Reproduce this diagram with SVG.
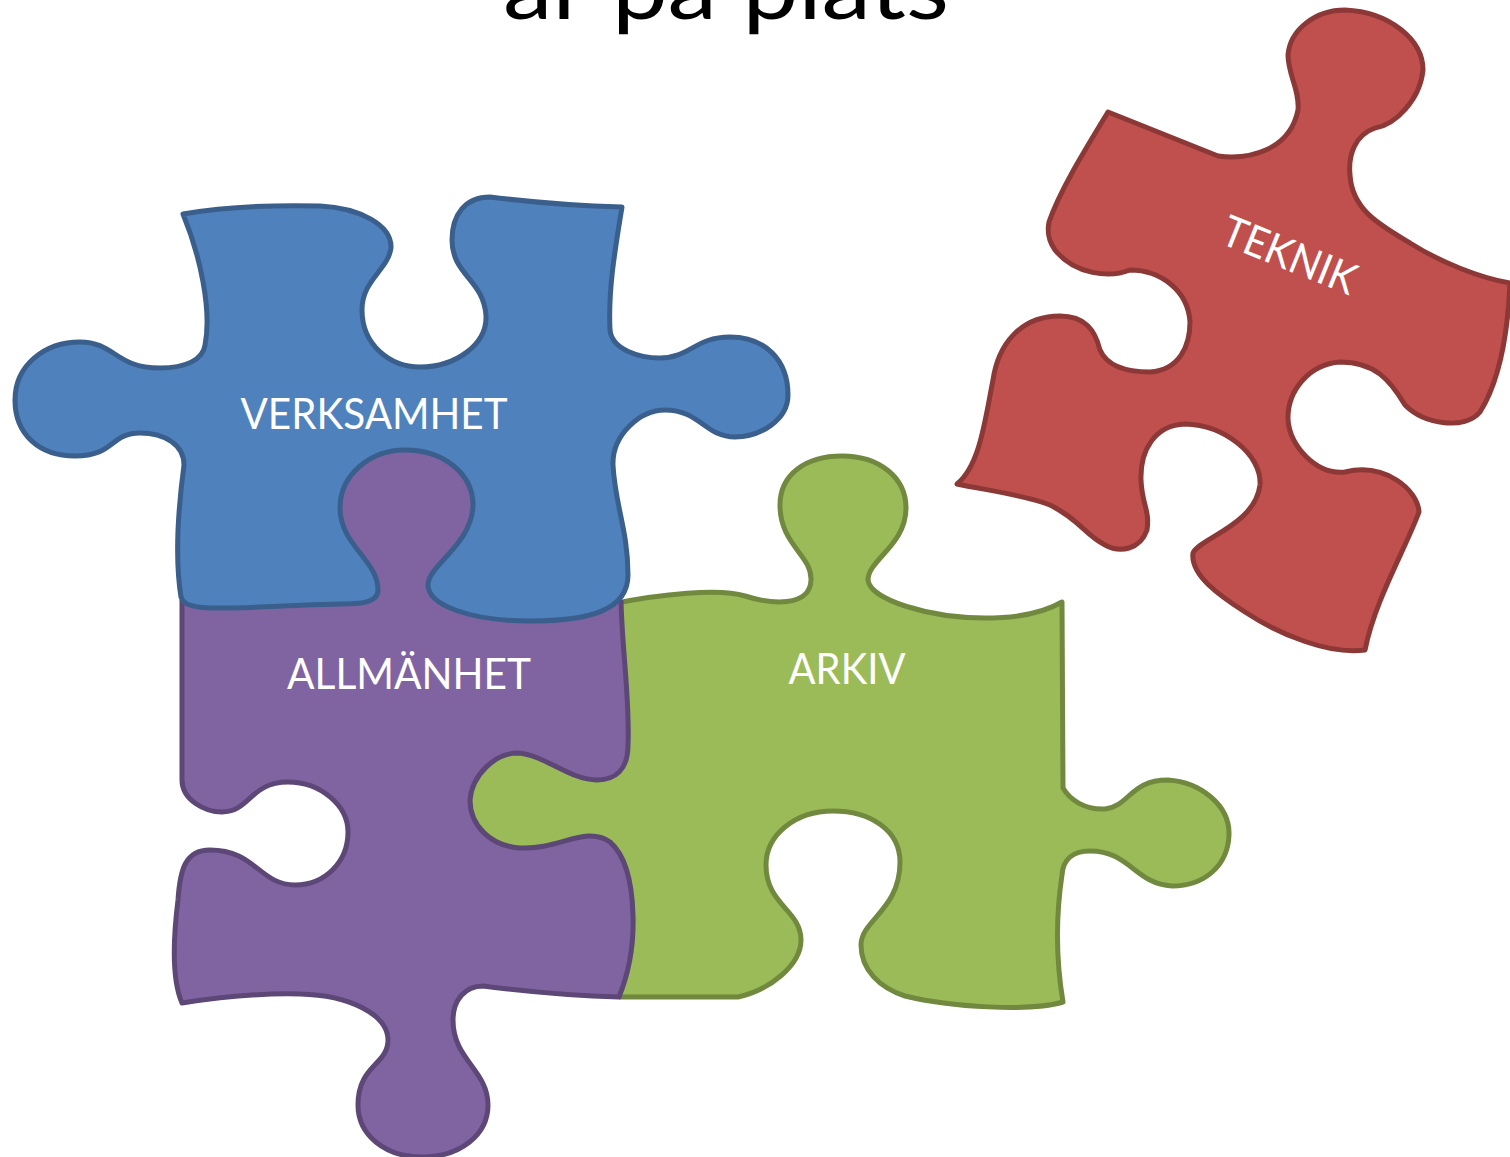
<svg xmlns="http://www.w3.org/2000/svg" width="1510" height="1157" viewBox="0 0 1510 1157">
<style>
.p{stroke-width:5;stroke-linejoin:round}
.l{font-family:Lato,"Open Sans",sans-serif;fill:#fff;font-size:43px;text-anchor:middle}
.blue{fill:#4f81bd;stroke:#3a5f8c}.red{fill:#c0504d;stroke:#8c3836}.green{fill:#9bbb59;stroke:#71893f}.purple{fill:#8064a2;stroke:#5c4776}
</style>
<rect width="1510" height="1157" fill="#fff"/>
<text x="726" y="19" font-family="Lato,'Open Sans',sans-serif" font-size="88" fill="#000" text-anchor="middle" textLength="446" lengthAdjust="spacingAndGlyphs">är på plats</text>
<g id="arkiv">
<path d="M462 745H640V990H600L462 900Z" fill="#9bbb59"/>
<path class="p green" d="M612 604C660 594 720 588 745 596C770 604 810 608 811 580C812 555 780 545 780 505C780 475 805 456 842 456C880 456 906 478 906 508C906 545 868 560 868 580C870 600 930 618 985 618C1020 618 1045 612 1062 602L1063 788C1070 800 1085 810 1105 809C1130 806 1130 780 1168 780C1200 782 1230 805 1229 835C1228 865 1205 886 1172 886C1135 884 1130 851 1090 851C1072 851 1063 860 1062 875C1056 915 1056 960 1063 1002C1030 1012 950 1007 905 996C880 988 861 970 861 945C861 920 900 910 900 862C900 830 870 811 833 811C795 811 766 835 766 865C766 905 801 910 801 940C801 965 770 990 738 997L619 997"/>
<text class="l" x="847" y="684" textLength="117" lengthAdjust="spacingAndGlyphs">ARKIV</text>
</g>
<g id="allmanhet">
<path d="M340 440H480V620H340Z" fill="#8064a2"/>
<path class="p purple" d="M182 600L182 780C182 800 205 812 222 812C250 812 250 782 288 782C320 782 348 805 348 832C348 862 325 885 295 885C260 885 255 850 210 850C185 850 180 870 178 900C173 940 172 980 182 1003C220 997 260 993 300 994C350 995 388 1015 388 1040C388 1065 358 1065 358 1105C358 1135 385 1157 422 1157C460 1157 488 1135 488 1105C488 1070 453 1060 453 1020C453 1000 465 986 483 986C530 992 580 996 619 997C630 970 634 945 633 915C632 880 625 855 610 842C585 825 560 850 520 848C490 846 470 825 470 800C472 775 495 753 518 753C545 755 570 780 597 780C615 780 628 770 628 745C630 700 622 650 621 600"/>
<text class="l" x="409" y="689" textLength="244" lengthAdjust="spacingAndGlyphs">ALLMÄNHET</text>
</g>
<g id="verksamhet">
<path class="p blue" d="M183 214C230 206 280 205 320 206C360 208 392 225 391 248C388 270 362 280 362 310C362 345 390 367 420 367C455 367 487 345 486 316C484 280 452 275 452 240C452 215 465 197 490 197C530 202 580 206 622 207C615 250 608 290 610 330C612 350 640 358 660 358C690 358 695 337 730 337C765 337 788 360 788 395C788 420 760 437 735 437C705 437 700 410 665 410C640 410 612 435 613 465C615 505 628 530 628 575C628 610 590 621 530 621C470 621 428 605 428 585C428 565 472 545 473 505C473 475 445 450 405 450C370 450 340 475 340 508C340 545 378 560 378 590C378 603 360 604 340 604C290 605 240 609 210 608C190 607 183 604 181 597C175 560 178 510 184 465C184 445 165 433 140 433C110 433 115 456 75 456C40 456 15 435 15 400C15 365 45 342 80 342C115 342 115 368 160 368C185 368 203 360 205 345C212 310 200 255 183 214Z"/>
<text class="l" x="374" y="429" textLength="267" lengthAdjust="spacingAndGlyphs">VERKSAMHET</text>
</g>
<g id="teknik">
<path class="p red" d="M1108 112L1218 156C1250 160 1290 150 1298 110C1300 90 1288 75 1288 55C1290 30 1315 10 1345 10C1390 12 1423 40 1423 70C1420 100 1395 125 1375 128C1355 135 1348 155 1350 175C1352 210 1380 225 1410 243C1440 262 1480 278 1510 283C1508 330 1500 380 1480 412C1465 430 1425 425 1405 405C1390 380 1375 362 1340 362C1310 364 1287 390 1288 420C1290 445 1315 475 1345 472C1385 462 1418 490 1419 512C1405 550 1375 600 1365 650C1330 655 1280 635 1245 612C1220 596 1190 575 1193 553C1200 538 1255 525 1260 485C1262 455 1225 425 1185 424C1155 425 1140 450 1141 480C1142 505 1150 510 1147 530C1140 550 1120 553 1105 545C1085 535 1080 520 1050 505C1025 495 985 490 957 484C980 465 985 420 993 380C998 345 1020 316 1060 316C1085 316 1095 330 1100 350C1108 368 1130 372 1150 372C1180 370 1190 345 1190 322C1188 290 1160 270 1130 270C1110 278 1075 275 1055 250C1048 240 1047 232 1049 222C1060 190 1085 150 1108 112Z"/>
<text class="l" transform="translate(1289 256) rotate(22)" y="14" textLength="141" lengthAdjust="spacingAndGlyphs">TEKNIK</text>
</g>
</svg>
